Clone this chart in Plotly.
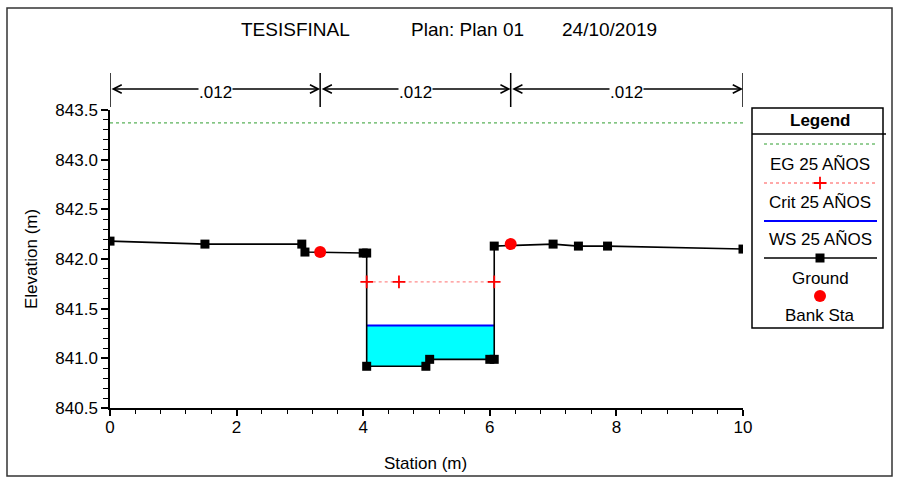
import plotly.graph_objects as go
import numpy as np

W, H = 899, 479

# ---------------- data ----------------
ground_sta = [0.0, 1.5, 3.03, 3.08, 4.0, 4.055, 4.055, 4.99, 5.05, 6.0, 6.07, 6.07, 7.0, 7.4, 7.86, 10.0]
ground_elev = [842.18, 842.15, 842.15, 842.07, 842.06, 842.06, 840.92, 840.92, 840.99, 840.99, 840.99, 842.13, 842.15, 842.13, 842.13, 842.10]

bank_sta = [3.32, 6.33]
bank_elev = [842.07, 842.15]

ws_elev = 841.33          # WS 25 AÑOS
crit_sta = [4.055, 4.565, 6.07]
crit_elev = [841.77, 841.77, 841.77]
eg_sta = [0.0, 10.0]
eg_elev = [843.37, 843.37]

n_bounds = [0.0, 3.32, 6.33, 10.0]
n_values = [".012", ".012", ".012"]

x_ticks = [0, 2, 4, 6, 8, 10]
y_ticks = [840.5, 841.0, 841.5, 842.0, 842.5, 843.0, 843.5]

legend_names = ["EG 25 AÑOS", "Crit 25 AÑOS", "WS 25 AÑOS", "Ground", "Bank Sta"]

title_parts = ["TESISFINAL", "Plan: Plan 01", "24/10/2019"]

FONT = "Liberation Sans, Arial, sans-serif"
EG_COLOR = "#2f9e2f"
CRIT_LINE = "#ff8c8c"

def px(v):
    return v / W

def py(v):
    return 1 - v / H

# ---------------- figure ----------------
fig = go.Figure()

# water polygon (channel points below WS)
gs = np.array(ground_sta)
ge = np.array(ground_elev)
wet = ge < ws_elev
wx = gs[wet]
wy = ge[wet]
poly_x = [wx[0]] + list(wx) + [wx[-1], wx[0]]
poly_y = [ws_elev] + list(wy) + [ws_elev, ws_elev]
fig.add_trace(go.Scatter(x=poly_x, y=poly_y, mode="lines", fill="toself",
                         fillcolor="#00ffff", line=dict(width=0), hoverinfo="skip",
                         showlegend=False))
# WS line
fig.add_trace(go.Scatter(x=[wx[0], wx[-1]], y=[ws_elev, ws_elev], mode="lines",
                         line=dict(color="#0000ff", width=2), showlegend=False))
# EG
fig.add_trace(go.Scatter(x=eg_sta, y=eg_elev, mode="lines",
                         line=dict(color=EG_COLOR, width=1, dash="dot"),
                         showlegend=False))
# Ground
fig.add_trace(go.Scatter(x=ground_sta, y=ground_elev, mode="lines+markers",
                         line=dict(color="black", width=1.6),
                         marker=dict(symbol="square", size=9, color="black"),
                         showlegend=False))
# Crit
fig.add_trace(go.Scatter(x=crit_sta, y=crit_elev, mode="lines+markers",
                         line=dict(color=CRIT_LINE, width=1.3, dash="dot"),
                         marker=dict(symbol="cross-thin", size=9, color="red",
                                     line=dict(color="red", width=1.8)),
                         showlegend=False))
# Bank stations
fig.add_trace(go.Scatter(x=bank_sta, y=bank_elev, mode="markers",
                         marker=dict(symbol="circle", size=12, color="red"),
                         showlegend=False))

# ---------------- legend (manual, on hidden axes) ----------------
LX0, LX1, LY0, LY1 = 752, 883, 108, 328
sample_x = [764, 820, 877]
fig.add_trace(go.Scatter(x=[sample_x[0], sample_x[2]], y=[144, 144], mode="lines",
                         line=dict(color=EG_COLOR, width=1, dash="dot"),
                         xaxis="x2", yaxis="y2", showlegend=False, hoverinfo="skip"))
fig.add_trace(go.Scatter(x=[sample_x[0], sample_x[2]], y=[183, 183], mode="lines",
                         line=dict(color=CRIT_LINE, width=1.3, dash="dot"),
                         xaxis="x2", yaxis="y2", showlegend=False, hoverinfo="skip"))
fig.add_trace(go.Scatter(x=[sample_x[1]], y=[183], mode="markers",
                         marker=dict(symbol="cross-thin", size=9, color="red",
                                     line=dict(color="red", width=1.8)),
                         xaxis="x2", yaxis="y2", showlegend=False, hoverinfo="skip"))
fig.add_trace(go.Scatter(x=[sample_x[0], sample_x[2]], y=[221, 221], mode="lines",
                         line=dict(color="#0000ff", width=2),
                         xaxis="x2", yaxis="y2", showlegend=False, hoverinfo="skip"))
fig.add_trace(go.Scatter(x=[sample_x[0], sample_x[2]], y=[258, 258], mode="lines",
                         line=dict(color="black", width=1.6),
                         xaxis="x2", yaxis="y2", showlegend=False, hoverinfo="skip"))
fig.add_trace(go.Scatter(x=[sample_x[1]], y=[258], mode="markers",
                         marker=dict(symbol="square", size=9, color="black"),
                         xaxis="x2", yaxis="y2", showlegend=False, hoverinfo="skip"))
fig.add_trace(go.Scatter(x=[sample_x[1]], y=[296], mode="markers",
                         marker=dict(symbol="circle", size=12, color="red"),
                         xaxis="x2", yaxis="y2", showlegend=False, hoverinfo="skip"))

annotations = []

def ann(**kw):
    d = dict(xanchor="center", yanchor="middle", showarrow=False)
    d.update(kw)
    annotations.append(d)

legend_text_y = [164, 202, 239, 278, 315]
ann(x=820, y=121, xref="x2", yref="y2", text="<b>Legend</b>",
    font=dict(family=FONT, size=17, color="black"))
for name, yy in zip(legend_names, legend_text_y):
    ann(x=820, y=yy, xref="x2", yref="y2", text=name,
        font=dict(family=FONT, size=17, color="black"))

shapes = []
shapes.append(dict(type="rect", xref="paper", yref="paper",
                   x0=px(LX0), x1=px(LX1), y0=py(LY1), y1=py(LY0),
                   line=dict(color="black", width=1.5)))
shapes.append(dict(type="line", xref="paper", yref="paper",
                   x0=px(LX0), x1=px(886), y0=py(134), y1=py(134),
                   line=dict(color="black", width=1.5)))
# outer border
shapes.append(dict(type="rect", xref="paper", yref="paper",
                   x0=px(7), x1=px(892), y0=py(476), y1=py(8),
                   line=dict(color="#333333", width=1.5)))

# ---------------- Manning n dimension markers ----------------
ARROW_Y = py(89)
for b in n_bounds:
    shapes.append(dict(type="line", xref="x", yref="paper", x0=b, x1=b,
                       y0=py(107), y1=py(73), line=dict(color="black", width=1.5)))
for a, b, t in zip(n_bounds[:-1], n_bounds[1:], n_values):
    annotations.append(dict(x=b, y=ARROW_Y, xref="x", yref="paper",
                            ax=a, ay=0, axref="x", ayref="pixel",
                            text="", showarrow=True, arrowhead=5, arrowside="end+start",
                            arrowsize=1.1, arrowwidth=1.5, arrowcolor="black",
                            standoff=0, startstandoff=0))
    ann(x=(a + b) / 2, y=py(92), xref="x", yref="paper",
        text=t, bgcolor="white", borderpad=0,
        font=dict(family=FONT, size=17, color="black"))

# ---------------- title and axis titles ----------------
title_x = [295, 467, 609]
for t, xx in zip(title_parts, title_x):
    ann(x=px(xx), y=py(30), xref="paper", yref="paper", text=t,
        font=dict(family=FONT, size=19, color="black"))
ann(x=px(425), y=py(463), xref="paper", yref="paper", text="Station (m)",
    font=dict(family=FONT, size=17, color="black"))
ann(x=px(31), y=py(259), xref="paper", yref="paper", text="Elevation (m)",
    textangle=-90, font=dict(family=FONT, size=17, color="black"))

fig.update_layout(
    template="none",
    width=W, height=H,
    autosize=False,
    margin=dict(l=0, r=0, t=0, b=0, pad=0, autoexpand=False),
    paper_bgcolor="white", plot_bgcolor="white",
    showlegend=False,
    font=dict(family=FONT, size=17, color="black"),
    xaxis=dict(domain=[px(110), px(743)], range=[0, 10], tickvals=x_ticks,
               ticktext=[str(v) for v in x_ticks], automargin=False,
               showgrid=False, zeroline=False, showline=True, linecolor="black",
               linewidth=1.5, ticks="outside", ticklen=6, tickwidth=1.5, tickcolor="black",
               ticklabelstandoff=-3,
               minor=dict(dtick=0.4, tick0=0, ticks="outside", ticklen=4, tickwidth=1.3,
                          tickcolor="black", showgrid=False),
               anchor="y", tickfont=dict(family=FONT, size=17), fixedrange=True),
    yaxis=dict(domain=[py(408), py(110)], range=[840.5, 843.5], tickvals=y_ticks,
               ticktext=[f"{v:.1f}" for v in y_ticks], automargin=False,
               showgrid=False, zeroline=False, showline=True, linecolor="black",
               linewidth=1.5, ticks="outside", ticklen=7, tickwidth=1.5, tickcolor="black",
               minor=dict(dtick=0.1, tick0=840.5, ticks="outside", ticklen=5, tickwidth=1.3,
                          tickcolor="black", showgrid=False),
               anchor="x", tickfont=dict(family=FONT, size=17), fixedrange=True),
    xaxis2=dict(domain=[px(LX0), px(LX1)], range=[LX0, LX1], visible=False,
                anchor="y2", fixedrange=True, automargin=False),
    yaxis2=dict(domain=[py(LY1), py(LY0)], range=[LY1, LY0], visible=False,
                anchor="x2", fixedrange=True, automargin=False),
    annotations=annotations,
    shapes=shapes,
)

fig.write_html("out.html", config={"displayModeBar": False},
               post_script="document.body.style.margin='0';document.body.style.overflow='hidden';")
